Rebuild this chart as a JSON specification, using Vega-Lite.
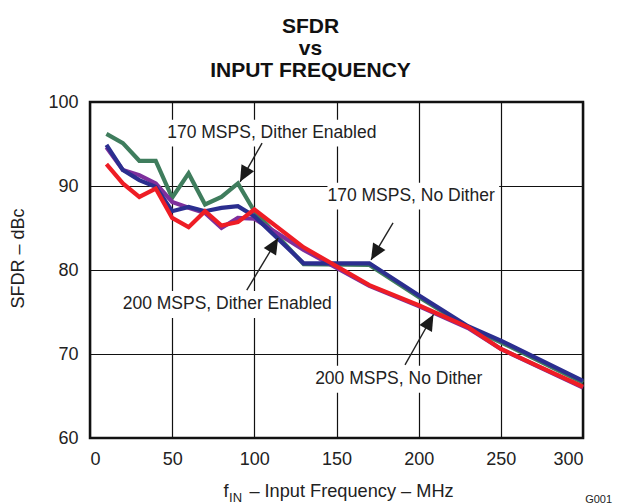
{
  "$schema": "https://vega.github.io/schema/vega-lite/v6.json",
  "width": 493,
  "height": 336,
  "autosize": "none",
  "padding": {"left": 90, "top": 102, "right": 34, "bottom": 66},
  "background": "white",
  "title": {
    "text": ["SFDR", "vs", "INPUT FREQUENCY"],
    "font": "Liberation Sans",
    "fontSize": 21,
    "fontWeight": "bold",
    "color": "#111111",
    "lineHeight": 22,
    "anchor": "middle",
    "frame": "group",
    "dx": -26,
    "offset": 12
  },
  "config": {
    "font": "Liberation Sans",
    "view": {"stroke": "#111111", "strokeWidth": 2.5},
    "axis": {
      "domain": false,
      "ticks": false,
      "grid": true,
      "gridColor": "#111111",
      "gridOpacity": 1,
      "gridWidth": 1.2,
      "labelFont": "Liberation Sans",
      "labelFontSize": 18,
      "labelColor": "#222222",
      "titleFont": "Liberation Sans",
      "titleFontSize": 18,
      "titleFontWeight": "normal",
      "titleColor": "#222222"
    }
  },
  "datasets": {
    "curves": [
      {"series": "170 MSPS, Dither Enabled", "freq": 10, "sfdr": 96.2},
      {"series": "170 MSPS, Dither Enabled", "freq": 20, "sfdr": 95.1},
      {"series": "170 MSPS, Dither Enabled", "freq": 30, "sfdr": 93.0},
      {"series": "170 MSPS, Dither Enabled", "freq": 40, "sfdr": 93.0},
      {"series": "170 MSPS, Dither Enabled", "freq": 50, "sfdr": 88.6},
      {"series": "170 MSPS, Dither Enabled", "freq": 60, "sfdr": 91.5},
      {"series": "170 MSPS, Dither Enabled", "freq": 70, "sfdr": 87.8},
      {"series": "170 MSPS, Dither Enabled", "freq": 80, "sfdr": 88.7},
      {"series": "170 MSPS, Dither Enabled", "freq": 90, "sfdr": 90.3},
      {"series": "170 MSPS, Dither Enabled", "freq": 100, "sfdr": 87.0},
      {"series": "170 MSPS, Dither Enabled", "freq": 130, "sfdr": 80.7},
      {"series": "170 MSPS, Dither Enabled", "freq": 170, "sfdr": 80.6},
      {"series": "170 MSPS, Dither Enabled", "freq": 200, "sfdr": 76.8},
      {"series": "170 MSPS, Dither Enabled", "freq": 230, "sfdr": 73.2},
      {"series": "170 MSPS, Dither Enabled", "freq": 250, "sfdr": 71.4},
      {"series": "170 MSPS, Dither Enabled", "freq": 300, "sfdr": 66.6},
      {"series": "200 MSPS, Dither Enabled", "freq": 10, "sfdr": 94.6},
      {"series": "200 MSPS, Dither Enabled", "freq": 20, "sfdr": 91.9},
      {"series": "200 MSPS, Dither Enabled", "freq": 30, "sfdr": 91.3},
      {"series": "200 MSPS, Dither Enabled", "freq": 40, "sfdr": 90.3},
      {"series": "200 MSPS, Dither Enabled", "freq": 50, "sfdr": 88.1},
      {"series": "200 MSPS, Dither Enabled", "freq": 60, "sfdr": 87.4},
      {"series": "200 MSPS, Dither Enabled", "freq": 70, "sfdr": 86.8},
      {"series": "200 MSPS, Dither Enabled", "freq": 80, "sfdr": 85.0},
      {"series": "200 MSPS, Dither Enabled", "freq": 90, "sfdr": 86.2},
      {"series": "200 MSPS, Dither Enabled", "freq": 100, "sfdr": 86.1},
      {"series": "200 MSPS, Dither Enabled", "freq": 130, "sfdr": 82.4},
      {"series": "200 MSPS, Dither Enabled", "freq": 170, "sfdr": 78.1},
      {"series": "200 MSPS, Dither Enabled", "freq": 200, "sfdr": 75.7},
      {"series": "200 MSPS, Dither Enabled", "freq": 230, "sfdr": 73.1},
      {"series": "200 MSPS, Dither Enabled", "freq": 250, "sfdr": 70.6},
      {"series": "200 MSPS, Dither Enabled", "freq": 300, "sfdr": 66.0},
      {"series": "170 MSPS, No Dither", "freq": 10, "sfdr": 94.9},
      {"series": "170 MSPS, No Dither", "freq": 20, "sfdr": 91.9},
      {"series": "170 MSPS, No Dither", "freq": 30, "sfdr": 90.7},
      {"series": "170 MSPS, No Dither", "freq": 40, "sfdr": 89.9},
      {"series": "170 MSPS, No Dither", "freq": 50, "sfdr": 87.0},
      {"series": "170 MSPS, No Dither", "freq": 60, "sfdr": 87.5},
      {"series": "170 MSPS, No Dither", "freq": 70, "sfdr": 87.0},
      {"series": "170 MSPS, No Dither", "freq": 80, "sfdr": 87.4},
      {"series": "170 MSPS, No Dither", "freq": 90, "sfdr": 87.6},
      {"series": "170 MSPS, No Dither", "freq": 100, "sfdr": 86.4},
      {"series": "170 MSPS, No Dither", "freq": 130, "sfdr": 80.8},
      {"series": "170 MSPS, No Dither", "freq": 170, "sfdr": 80.8},
      {"series": "170 MSPS, No Dither", "freq": 200, "sfdr": 77.0},
      {"series": "170 MSPS, No Dither", "freq": 230, "sfdr": 73.3},
      {"series": "170 MSPS, No Dither", "freq": 250, "sfdr": 71.6},
      {"series": "170 MSPS, No Dither", "freq": 300, "sfdr": 66.8},
      {"series": "200 MSPS, No Dither", "freq": 10, "sfdr": 92.6},
      {"series": "200 MSPS, No Dither", "freq": 20, "sfdr": 90.3},
      {"series": "200 MSPS, No Dither", "freq": 30, "sfdr": 88.7},
      {"series": "200 MSPS, No Dither", "freq": 40, "sfdr": 89.7},
      {"series": "200 MSPS, No Dither", "freq": 50, "sfdr": 86.2},
      {"series": "200 MSPS, No Dither", "freq": 60, "sfdr": 85.1},
      {"series": "200 MSPS, No Dither", "freq": 70, "sfdr": 87.0},
      {"series": "200 MSPS, No Dither", "freq": 80, "sfdr": 85.3},
      {"series": "200 MSPS, No Dither", "freq": 90, "sfdr": 85.7},
      {"series": "200 MSPS, No Dither", "freq": 100, "sfdr": 87.2},
      {"series": "200 MSPS, No Dither", "freq": 130, "sfdr": 82.7},
      {"series": "200 MSPS, No Dither", "freq": 170, "sfdr": 78.2},
      {"series": "200 MSPS, No Dither", "freq": 200, "sfdr": 75.8},
      {"series": "200 MSPS, No Dither", "freq": 230, "sfdr": 73.2},
      {"series": "200 MSPS, No Dither", "freq": 250, "sfdr": 70.6},
      {"series": "200 MSPS, No Dither", "freq": 300, "sfdr": 66.1}
    ],
    "labels": [
      {"label": "170 MSPS, Dither Enabled", "freq": 47, "freqEnd": 176, "sfdr": 96.3, "lo": 94.7, "hi": 97.9},
      {"label": "170 MSPS, No Dither", "freq": 144.5, "freqEnd": 249, "sfdr": 88.8, "lo": 87.2, "hi": 90.4},
      {"label": "200 MSPS, Dither Enabled", "freq": 19.9, "freqEnd": 149, "sfdr": 75.9, "lo": 74.3, "hi": 77.5},
      {"label": "200 MSPS, No Dither", "freq": 137, "freqEnd": 241, "sfdr": 67.0, "lo": 65.4, "hi": 68.6}
    ],
    "arrows": [
      {"freq": 104.7, "sfdr": 95.1, "tipFreq": 91.3, "tipSfdr": 90.5, "angle": 209},
      {"freq": 184.4, "sfdr": 85.6, "tipFreq": 171, "tipSfdr": 81.2, "angle": 211},
      {"freq": 95.4, "sfdr": 77.6, "tipFreq": 114.5, "tipSfdr": 83.8, "angle": 31},
      {"freq": 191.7, "sfdr": 68.7, "tipFreq": 209, "tipSfdr": 74.7, "angle": 29}
    ]
  },
  "layer": [
    {
      "data": {"name": "labels"},
      "mark": {"type": "rect", "fill": "white", "stroke": null},
      "encoding": {
        "x": {"field": "freq", "type": "quantitative", "scale": {"domain": [0, 300], "nice": false},
              "axis": {"title": null, "values": [0, 50, 100, 150, 200, 250, 300], "labelPadding": 12}},
        "x2": {"field": "freqEnd"},
        "y": {"field": "lo", "type": "quantitative", "scale": {"domain": [60, 100], "nice": false},
              "axis": {"title": "SFDR – dBc", "values": [60, 70, 80, 90, 100], "labelPadding": 12,
                       "titleX": -72, "titleY": 156, "titleAngle": -90, "titleAlign": "center", "titleBaseline": "middle"}},
        "y2": {"field": "hi"}
      }
    },
    {
      "data": {"name": "curves"},
      "mark": {"type": "line", "strokeWidth": 4.2, "strokeJoin": "miter", "strokeCap": "butt"},
      "encoding": {
        "x": {"field": "freq", "type": "quantitative"},
        "y": {"field": "sfdr", "type": "quantitative", "title": "SFDR – dBc"},
        "color": {"field": "series", "type": "nominal", "legend": null,
                  "scale": {"domain": ["170 MSPS, Dither Enabled", "200 MSPS, Dither Enabled", "170 MSPS, No Dither", "200 MSPS, No Dither"],
                            "range": ["#3f7d5d", "#7e2f9c", "#2b2e8f", "#ee1d25"]}}
      }
    },
    {
      "data": {"name": "arrows"},
      "mark": {"type": "rule", "stroke": "#222222", "strokeWidth": 1.4},
      "encoding": {
        "x": {"field": "freq", "type": "quantitative"},
        "y": {"field": "sfdr", "type": "quantitative", "title": "SFDR – dBc"},
        "x2": {"field": "tipFreq"},
        "y2": {"field": "tipSfdr"}
      }
    },
    {
      "data": {"name": "arrows"},
      "mark": {"type": "point", "shape": "M0,0L-0.9,2L0.9,2Z", "filled": true, "size": 256, "color": "#1a1a1a", "opacity": 1, "strokeWidth": 0},
      "encoding": {
        "x": {"field": "tipFreq", "type": "quantitative"},
        "y": {"field": "tipSfdr", "type": "quantitative", "title": "SFDR – dBc"},
        "angle": {"field": "angle", "type": "quantitative", "scale": null}
      }
    },
    {
      "data": {"name": "labels"},
      "mark": {"type": "text", "align": "left", "baseline": "middle", "fontSize": 17.5, "font": "Liberation Sans", "color": "#222222"},
      "encoding": {
        "x": {"field": "freq", "type": "quantitative"},
        "y": {"field": "sfdr", "type": "quantitative", "title": "SFDR – dBc"},
        "text": {"field": "label"}
      }
    },
    {
      "data": {"values": [{"t": "f", "freq": 81.2, "sfdr": 53.6}, {"t": "– Input Frequency – MHz", "freq": 97.0, "sfdr": 53.6}]},
      "mark": {"type": "text", "align": "left", "baseline": "middle", "fontSize": 18.2, "font": "Liberation Sans", "color": "#222222"},
      "encoding": {
        "x": {"field": "freq", "type": "quantitative"},
        "y": {"field": "sfdr", "type": "quantitative", "title": "SFDR – dBc"},
        "text": {"field": "t"}
      }
    },
    {
      "data": {"values": [{"t": "IN", "freq": 84.6, "sfdr": 52.9}]},
      "mark": {"type": "text", "align": "left", "baseline": "middle", "fontSize": 13, "font": "Liberation Sans", "color": "#222222"},
      "encoding": {
        "x": {"field": "freq", "type": "quantitative"},
        "y": {"field": "sfdr", "type": "quantitative", "title": "SFDR – dBc"},
        "text": {"field": "t"}
      }
    },
    {
      "data": {"values": [{"t": "G001", "freq": 301.3, "sfdr": 52.6}]},
      "mark": {"type": "text", "align": "left", "baseline": "middle", "fontSize": 11, "font": "Liberation Sans", "color": "#222222"},
      "encoding": {
        "x": {"field": "freq", "type": "quantitative"},
        "y": {"field": "sfdr", "type": "quantitative", "title": "SFDR – dBc"},
        "text": {"field": "t"}
      }
    }
  ]
}
